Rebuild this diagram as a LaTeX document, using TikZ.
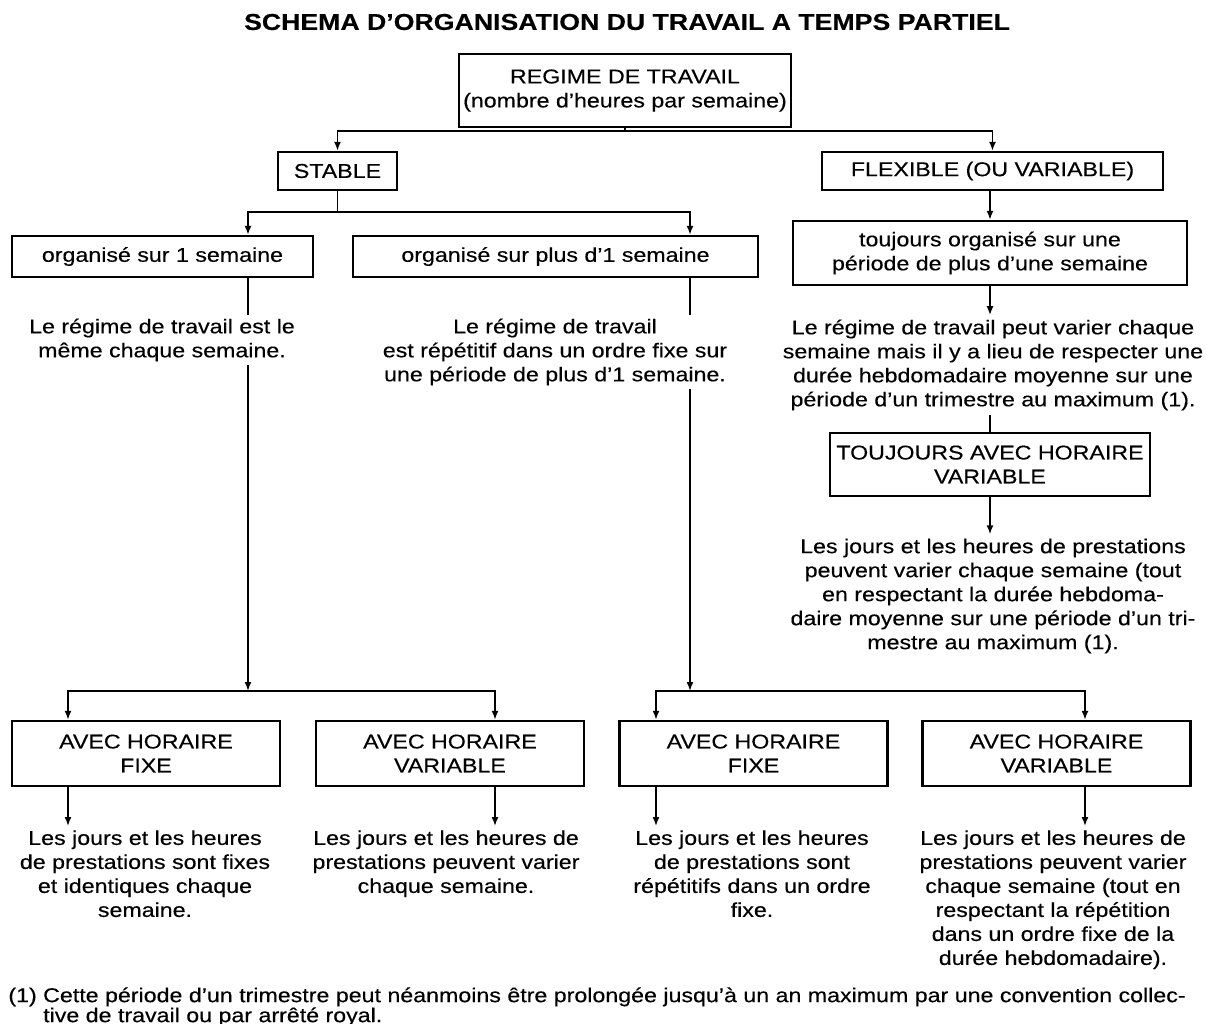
\documentclass[tikz,border=0pt]{standalone}
\usepackage{fontspec}
\setmainfont{Liberation Sans}[FakeStretch=1.16,FakeBold=0.3]
\usetikzlibrary{arrows.meta,positioning,backgrounds}
\tikzset{
  blk/.style ={draw=black,line width=1.2pt,fill=white,align=center,
               inner sep=2pt,font=\fontsize{10}{12}\selectfont},
  txt/.style ={fill=white,align=center,inner sep=2pt,
               font=\fontsize{10}{12}\selectfont},
  ttl/.style ={font=\fontsize{11.5}{14}\selectfont\bfseries},
  note/.style={align=left,inner sep=0pt,font=\fontsize{10}{10}\selectfont},
  sig/.style ={-{Latex[length=4.5pt,width=3.5pt]},line width=0.8pt},
  bus/.style ={line width=0.8pt},
}

\begin{document}
\begin{tikzpicture}[x=0.5pt,y=-0.5pt]
\useasboundingbox (0,0) rectangle (1207,1024);

\node[ttl] (title) at (627,22) {SCHEMA D'ORGANISATION DU TRAVAIL A TEMPS PARTIEL};

% top levels
\node[blk,minimum width=166pt,minimum height=36.5pt] (regime) at (625,90.5)
  {REGIME DE TRAVAIL\\(nombre d'heures par semaine)};
\node[blk,minimum width=59.5pt,minimum height=19pt] (stable) at (337.5,171) {STABLE};
\node[blk,minimum width=170.5pt,minimum height=19pt] (flex) at (992.5,171)
  {FLEXIBLE (OU VARIABLE)};

\node[blk,minimum width=150.5pt,minimum height=20.5pt] (org1) at (162.5,256.5)
  {organisé sur 1 semaine};
\node[blk,minimum width=202.5pt,minimum height=20.5pt] (org2) at (555.5,256.5)
  {organisé sur plus d'1 semaine};
\node[blk,minimum width=197pt,minimum height=32pt] (touj) at (990,253)
  {toujours organisé sur une\\période de plus d'une semaine};

% texts under the second level
\node[txt] (txtA) at (162,340)
  {Le régime de travail est le\\même chaque semaine.};
\node[txt] (txtB) at (555,352)
  {Le régime de travail\\est répétitif dans un ordre fixe sur\\une période de plus d'1 semaine.};
\node[txt] (txtC) at (993,365)
  {Le régime de travail peut varier chaque\\semaine mais il y a lieu de respecter une\\durée hebdomadaire moyenne sur une\\période d'un trimestre au maximum (1).};

\node[blk,minimum width=160pt,minimum height=31.5pt] (tvar) at (990,464.5)
  {TOUJOURS AVEC HORAIRE\\VARIABLE};
\node[txt] (txtD) at (993,596)
  {Les jours et les heures de prestations\\peuvent varier chaque semaine (tout\\en respectant la durée hebdoma-\\daire moyenne sur une période d'un tri-\\mestre au maximum (1).};

% bottom row
\node[blk,minimum width=134pt,minimum height=32.5pt] (fix1) at (146,753.5)
  {AVEC HORAIRE\\FIXE};
\node[blk,minimum width=134pt,minimum height=32.5pt] (var1) at (450,753.5)
  {AVEC HORAIRE\\VARIABLE};
\node[blk,minimum width=134pt,minimum height=32.5pt] (fix2) at (753.5,753.5)
  {AVEC HORAIRE\\FIXE};
\node[blk,minimum width=134pt,minimum height=32.5pt] (var2) at (1056.5,753.5)
  {AVEC HORAIRE\\VARIABLE};

\node[txt,anchor=north] (txtF1) at (145,826)
  {Les jours et les heures\\de prestations sont fixes\\et identiques chaque\\semaine.};
\node[txt,anchor=north] (txtV1) at (446,826)
  {Les jours et les heures de\\prestations peuvent varier\\chaque semaine.};
\node[txt,anchor=north] (txtF2) at (752,826)
  {Les jours et les heures\\de prestations sont\\répétitifs dans un ordre\\fixe.};
\node[txt,anchor=north] (txtV2) at (1053,826)
  {Les jours et les heures de\\prestations peuvent varier\\chaque semaine (tout en\\respectant la répétition\\dans un ordre fixe de la\\durée hebdomadaire).};

\node[note,anchor=north west] (fn) at (8,987)
  {(1) Cette période d'un trimestre peut néanmoins être prolongée jusqu'à un an maximum par une convention collec-\\
   \hphantom{(1) }tive de travail ou par arrêté royal.};

% columns and buses
\coordinate (cA) at (248,0);
\coordinate (cB) at (690,0);
\coordinate (c1) at (68,0);
\coordinate (c2) at (495,0);
\coordinate (c3) at (656,0);
\coordinate (c4) at (1085,0);
\coordinate (busT) at (625,131);
\coordinate (busS) at (337.5,212);
\coordinate (busL) at (248,691);
\coordinate (busR) at (690,691);

\begin{scope}[on background layer]
\draw[bus] (regime.south) -- (busT);
\draw[sig] (busT) -| (stable.north);
\draw[sig] (busT) -| (flex.north);

\draw[bus] (stable.south) -- (busS);
\draw[sig] (busS) -| (org1.north -| cA);
\draw[sig] (busS) -| (org2.north -| cB);

\draw[sig] (org1.south -| cA) -- (busL);
\draw[sig] (org2.south -| cB) -- (busR);
\draw[sig] (busL) -| (fix1.north -| c1);
\draw[sig] (busL) -| (var1.north -| c2);
\draw[sig] (busR) -| (fix2.north -| c3);
\draw[sig] (busR) -| (var2.north -| c4);

% flexible branch
\draw[sig] (flex.south -| touj.north) -- (touj.north);
\draw[sig] (touj.south) -- (txtC.north -| touj.south);
\draw[bus] (txtC.south -| tvar.north) -- (tvar.north);
\draw[sig] (tvar.south) -- (txtD.north -| tvar.south);

% down into the bottom texts
\draw[sig] (fix1.south -| c1) -- (txtF1.north -| c1);
\draw[sig] (var1.south -| c2) -- (txtV1.north -| c2);
\draw[sig] (fix2.south -| c3) -- (txtF2.north -| c3);
\draw[sig] (var2.south -| c4) -- (txtV2.north -| c4);
\end{scope}
\end{tikzpicture}
\end{document}
